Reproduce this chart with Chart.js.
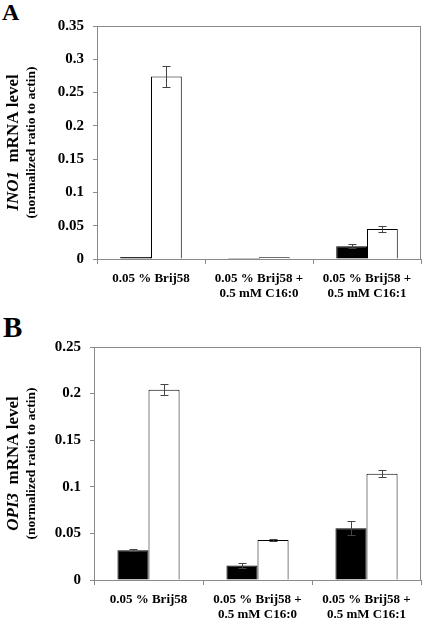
<!DOCTYPE html>
<html>
<head>
<meta charset="utf-8">
<script src="https://cdn.jsdelivr.net/npm/chart.js@4.4.1/dist/chart.umd.min.js"></script>
<style>
  body { margin: 0; background: #fff; width: 422px; height: 622px; overflow: hidden; position: relative; }
  .painel { position: absolute; left: 0; }
  .letra { position: absolute; font-family: "Liberation Serif", serif; font-weight: bold; color: #000; line-height: 1; }
</style>
</head>
<body>
<div class="letra" style="left:2px; top:0px; font-size:24px;">A</div>
<div class="letra" style="left:3px; top:313px; font-size:29px;">B</div>
<div class="painel" style="top:0px;"><canvas id="chartA" width="422" height="310"></canvas></div>
<div class="painel" style="top:310px;"><canvas id="chartB" width="422" height="312"></canvas></div>
<script>
// =======================
// Dados
// =======================
const categorias = [
  ["0.05 % Brij58"],
  ["0.05 % Brij58 +", "0.5 mM C16:0"],
  ["0.05 % Brij58 +", "0.5 mM C16:1"]
];

// Painel A - INO1
const ino1Preto = [0.003, 0.0015, 0.019];
const ino1Branco = [0.274, 0.0025, 0.045];
const ino1PretoErro = [0, 0, 0.003];
const ino1BrancoErro = [0.016, 0, 0.005];
const ino1Ticks = [0, 0.05, 0.1, 0.15, 0.2, 0.25, 0.3, 0.35];

// Painel B - OPI3
const opi3Preto = [0.032, 0.0155, 0.0555];
const opi3Branco = [0.204, 0.043, 0.114];
const opi3PretoErro = [0.0008, 0.0025, 0.0075];
const opi3BrancoErro = [0.006, 0.001, 0.0035];
const opi3Ticks = [0, 0.05, 0.1, 0.15, 0.2, 0.25];

const FONTE = "'Liberation Serif', 'Times New Roman', serif";
const CINZA = "#8a8a8a";

// =======================
// Plugins
// =======================
// barras de erro (desenha por cima das barras)
const barrasErro = {
  id: "barrasErro",
  afterDatasetsDraw(chart, args, opts) {
    const ctx = chart.ctx;
    const y = chart.scales.y;
    ctx.save();
    ctx.strokeStyle = "#444";
    ctx.lineWidth = 1;
    chart.data.datasets.forEach((ds, i) => {
      const meta = chart.getDatasetMeta(i);
      meta.data.forEach((bar, j) => {
        const err = ds.erros[j];
        if (!err) return;
        const x = Math.round(bar.x) + 0.5;
        const yTop = Math.round(y.getPixelForValue(ds.data[j] + err)) + 0.5;
        const yBot = Math.round(y.getPixelForValue(ds.data[j] - err)) + 0.5;
        ctx.beginPath();
        ctx.moveTo(x, yTop); ctx.lineTo(x, yBot);
        ctx.moveTo(x - 4, yTop); ctx.lineTo(x + 4, yTop);
        ctx.moveTo(x - 4, yBot); ctx.lineTo(x + 4, yBot);
        ctx.stroke();
      });
    });
    ctx.restore();
  }
};

// moldura de cima e da direita (estilo Excel)
const moldura = {
  id: "moldura",
  beforeDatasetsDraw(chart) {
    const { ctx, chartArea } = chart;
    ctx.save();
    ctx.strokeStyle = CINZA;
    ctx.lineWidth = 1;
    ctx.beginPath();
    ctx.moveTo(chartArea.left, Math.round(chartArea.top) + 0.5);
    ctx.lineTo(chartArea.right, Math.round(chartArea.top) + 0.5);
    ctx.moveTo(Math.round(chartArea.right) - 0.5, chartArea.top);
    ctx.lineTo(Math.round(chartArea.right) - 0.5, chartArea.bottom);
    ctx.stroke();
    ctx.restore();
  }
};

// titulo do eixo y com nome do gene em italico
const tituloY = {
  id: "tituloY",
  afterDraw(chart, args, opts) {
    const { ctx, chartArea } = chart;
    const meio = (chartArea.top + chartArea.bottom) / 2;
    ctx.save();
    ctx.fillStyle = "#000";
    ctx.textBaseline = "middle";

    // linha 1: GENE mRNA level
    ctx.save();
    ctx.translate(opts.x1, meio);
    ctx.rotate(-Math.PI / 2);
    const fItal = "italic bold 17px " + FONTE;
    const fBold = "bold 17px " + FONTE;
    ctx.font = fItal;
    const w1 = ctx.measureText(opts.gene).width;
    ctx.font = fBold;
    const resto = "  mRNA level";
    const w2 = ctx.measureText(resto).width;
    let x0 = -(w1 + w2) / 2;
    ctx.textAlign = "left";
    ctx.font = fItal;
    ctx.fillText(opts.gene, x0, 0);
    ctx.font = fBold;
    ctx.fillText(resto, x0 + w1, 0);
    ctx.restore();

    // linha 2
    ctx.save();
    ctx.translate(opts.x2, meio);
    ctx.rotate(-Math.PI / 2);
    ctx.font = "bold 13.5px " + FONTE;
    ctx.textAlign = "center";
    ctx.fillText("(normalized ratio to actin)", 0, 0);
    ctx.restore();

    ctx.restore();
  }
};

// =======================
// Criar grafico
// =======================
function criarGrafico(canvasId, preto, branco, pretoErro, brancoErro, ticks, opcoes) {
  const ctx = document.getElementById(canvasId).getContext("2d");
  return new Chart(ctx, {
    type: "bar",
    data: {
      labels: categorias,
      datasets: [
        {
          data: preto,
          erros: pretoErro,
          backgroundColor: "#000",
          borderColor: "#000",
          borderWidth: 1,
          barPercentage: 1,
          categoryPercentage: 0.57
        },
        {
          data: branco,
          erros: brancoErro,
          backgroundColor: "#fff",
          borderColor: "#000",
          borderWidth: 1,
          barPercentage: 1,
          categoryPercentage: 0.57
        }
      ]
    },
    options: {
      responsive: false,
      animation: false,
      layout: { padding: { top: opcoes.topo, right: 1, left: 0, bottom: 0 } },
      plugins: {
        legend: { display: false },
        tooltip: { enabled: false },
        tituloY: { gene: opcoes.gene, x1: 14, x2: 32 }
      },
      scales: {
        x: {
          offset: true,
          grid: { offset: true, drawOnChartArea: false, tickLength: 5, color: CINZA },
          border: { color: CINZA },
          ticks: {
            color: "#000",
            padding: 7,
            maxRotation: 0,
            autoSkip: false,
            font: { family: FONTE, weight: "bold", size: 13, lineHeight: 1.15 }
          },
          afterFit(scale) { scale.height = opcoes.alturaX; }
        },
        y: {
          min: 0,
          max: ticks[ticks.length - 1],
          afterBuildTicks(scale) { scale.ticks = ticks.map(v => ({ value: v })); },
          grid: { drawOnChartArea: false, tickLength: 4, color: CINZA },
          border: { color: CINZA },
          ticks: {
            color: "#000",
            padding: 9,
            font: { family: FONTE, weight: "bold", size: 15 },
            callback: v => String(+v.toFixed(2))
          },
          afterFit(scale) { scale.width = opcoes.larguraY; }
        }
      }
    },
    plugins: [moldura, barrasErro, tituloY]
  });
}

// =======================
// Paineis
// =======================
const graficoA = criarGrafico("chartA", ino1Preto, ino1Branco, ino1PretoErro, ino1BrancoErro, ino1Ticks,
  { gene: "INO1", topo: 26, alturaX: 51, larguraY: 97 });

const graficoB = criarGrafico("chartB", opi3Preto, opi3Branco, opi3PretoErro, opi3BrancoErro, opi3Ticks,
  { gene: "OPI3", topo: 37, alturaX: 42, larguraY: 94 });
</script>
</body>
</html>
